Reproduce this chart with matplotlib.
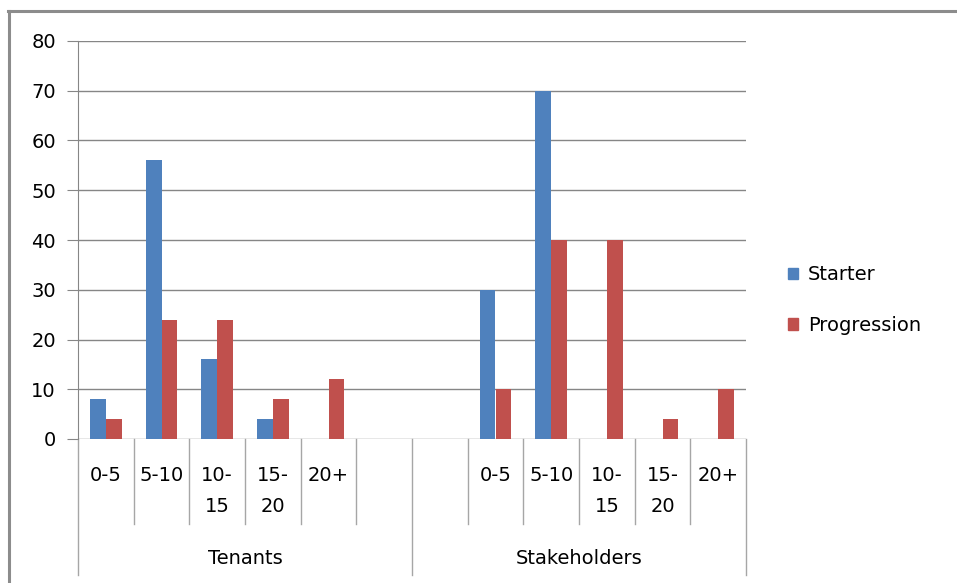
import numpy as np
import matplotlib
matplotlib.use("Agg")
import matplotlib.pyplot as plt
from matplotlib.lines import Line2D
from matplotlib.patches import Patch
import matplotlib.transforms as mtransforms

# survey counts by years band, two respondent groups
groups = ["Tenants", "Stakeholders"]
bands = ["0-5", "5-10", "10-\n15", "15-\n20", "20+"]
starter_tenants = [8, 56, 16, 4, 0]
progression_tenants = [4, 24, 24, 8, 12]
starter_stake = [30, 70, 0, 0, 0]
progression_stake = [10, 40, 40, 4, 10]
yticks = list(range(0, 90, 10))

BLUE = "#4F81BD"
RED = "#C0504D"
GRID = "#868686"
FONT = "DejaVu Sans"
FS = 14

W, H = 957, 583
fig = plt.figure(figsize=(W / 100, H / 100), dpi=100)

def px(x0, y0, x1, y1):
    return [x0 / W, 1 - y1 / H, (x1 - x0) / W, (y1 - y0) / H]

ax = fig.add_axes(px(78, 41, 746, 439))

# 12 slots: 5 tenant bands + blank, blank + 5 stakeholder bands
slots_t = np.arange(5) + 0.5
slots_s = np.arange(5) + 7.5
w = 1 / 3.5
ax.bar(slots_t - w / 2, starter_tenants, w, color=BLUE, zorder=3)
ax.bar(slots_t + w / 2, progression_tenants, w, color=RED, zorder=3)
ax.bar(slots_s - w / 2, starter_stake, w, color=BLUE, zorder=3)
ax.bar(slots_s + w / 2, progression_stake, w, color=RED, zorder=3)

ax.set_xlim(0, 12)
ax.set_ylim(0, 80)
ax.set_yticks(yticks)
ax.set_yticklabels([str(v) for v in yticks], fontsize=FS, family=FONT)
ax.set_xticks([])
for y in yticks:
    ax.axhline(y, color=GRID, lw=1, zorder=1)
for s in ["top", "right", "bottom"]:
    ax.spines[s].set_visible(False)
ax.spines["left"].set_color(GRID)
ax.tick_params(axis="y", length=8, color=GRID, pad=8)

# category axis: separators and labels below the plot
tr = mtransforms.blended_transform_factory(ax.transData, ax.transAxes)
short = -85 / 398
long_ = -136 / 398
for b in range(13):
    bottom = long_ if b in (0, 6, 12) else short
    ax.add_line(Line2D([b, b], [0, bottom], transform=tr, color="#A6A6A6",
                       lw=1, clip_on=False))
for pos, lab in zip(list(slots_t) + list(slots_s), bands + bands):
    ax.text(pos, -27 / 398, lab, transform=tr, ha="center", va="top",
            fontsize=FS, family=FONT, linespacing=1.8)
ax.text(3, -119 / 398, groups[0], transform=tr, ha="center", va="center",
        fontsize=FS, family=FONT)
ax.text(9, -119 / 398, groups[1], transform=tr, ha="center", va="center",
        fontsize=FS, family=FONT)

handles = [Patch(color=BLUE, label="Starter"), Patch(color=RED, label="Progression")]
fig.legend(handles=handles, loc="center left", bbox_to_anchor=(770 / W, 1 - 300 / H),
           frameon=False, prop={"family": FONT, "size": FS}, handlelength=0.55,
           handleheight=0.55, handletextpad=0.5, labelspacing=1.6)

# outer chart border (top and left edges)
fig.add_artist(Line2D([8 / W, 1], [1 - 11 / H] * 2, color="#8C8C8C", lw=2.2,
                      transform=fig.transFigure))
fig.add_artist(Line2D([9 / W] * 2, [0, 1 - 11 / H], color="#8C8C8C", lw=2.2,
                      transform=fig.transFigure))

fig.savefig("out.png", dpi=100)
